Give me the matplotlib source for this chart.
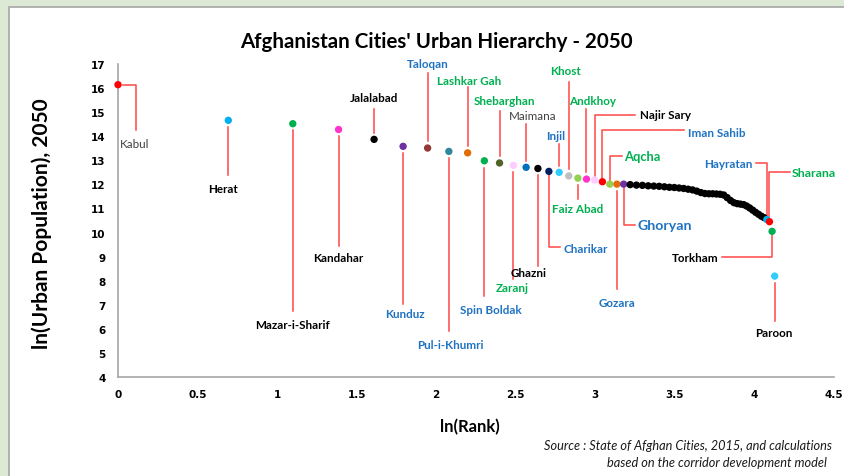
import numpy as np
import matplotlib
matplotlib.use("Agg")
import matplotlib.pyplot as plt
from matplotlib.patches import Rectangle

# ---------------- data ----------------
ranks = list(range(1, 63))
ln_pop = [16.14, 14.66, 14.52, 14.28, 13.87, 13.58, 13.51, 13.37, 13.31, 12.98,
          12.89, 12.79, 12.71, 12.66, 12.54, 12.50, 12.35, 12.26, 12.22, 12.18,
          12.11, 12.01, 12.01, 12.01,
          11.99, 11.97, 11.96, 11.94, 11.93, 11.92, 11.90, 11.88, 11.87, 11.85,
          11.83, 11.80, 11.77, 11.72, 11.66, 11.62, 11.61, 11.61, 11.60, 11.59,
          11.56, 11.45, 11.33, 11.24, 11.20, 11.18, 11.16, 11.10, 11.02, 10.93,
          10.84, 10.76, 10.68, 10.62,
          10.54, 10.45, 10.05, 8.19]

point_colors = ["#ff0000", "#00b0f0", "#00b050", "#ff33cc", "#000000", "#7030a0",
                "#953735", "#31859c", "#e36c09", "#00b050", "#4f6228", "#ffccff",
                "#0070c0", "#000000", "#002060", "#33ccff", "#bfbfbf", "#92d050",
                "#ff33cc", "#ffccff", "#ff0000", "#92d050", "#e36c09", "#7030a0"] \
               + ["#000000"] * 34 + ["#00b0f0", "#ff0000", "#00b050", "#33ccff"]

BLUE, GREEN, BLACK, GRAY = "#1f73c2", "#00b050", "#000000", "#404040"

# label layout: rank, name, colour, bold, text x, text y, ha, leader kind, leader end y, leader end x
labels = [
    (1, "Kabul", GRAY, False, 0.105, 13.68, "center", "hv", 14.26, 0.113),
    (2, "Herat", BLACK, True, 0.66, 11.81, "center", "v", 12.39, None),
    (3, "Mazar-i-Sharif", BLACK, True, 1.094, 6.20, "center", "v", 6.74, None),
    (4, "Kandahar", BLACK, True, 1.383, 8.98, "center", "v", 9.44, None),
    (5, "Jalalabad", BLACK, True, 1.61, 15.59, "center", "v", 15.13, None),
    (6, "Kunduz", BLUE, True, 1.804, 6.62, "center", "v", 7.03, None),
    (7, "Taloqan", BLUE, True, 1.948, 17.0, "center", "v", 16.62, None),
    (8, "Pul-i-Khumri", BLUE, True, 2.087, 5.37, "center", "v", 5.91, None),
    (9, "Lashkar Gah", GREEN, True, 2.206, 16.33, "center", "v", 16.04, None),
    (10, "Spin Boldak", BLUE, True, 2.344, 6.82, "center", "v", 7.36, None),
    (11, "Shebarghan", GREEN, True, 2.432, 15.50, "center", "v", 15.05, None),
    (12, "Zaranj", GREEN, True, 2.476, 7.70, "center", "v", 8.07, None),
    (13, "Maimana", GRAY, False, 2.608, 14.88, "center", "v", 14.51, None),
    (14, "Ghazni", BLACK, True, 2.583, 8.32, "center", "v", 8.61, None),
    (15, "Charikar", BLUE, True, 2.80, 9.32, "left", "vh", 9.40, 2.778),
    (16, "Injil", BLUE, True, 2.753, 14.05, "center", "v", 13.68, None),
    (17, "Khost", GREEN, True, 2.81, 16.71, "center", "v", 16.25, None),
    (18, "Faiz Abad", GREEN, True, 2.89, 10.98, "center", "v", 11.39, None),
    (19, "Andkhoy", GREEN, True, 2.98, 15.50, "center", "v", 15.13, None),
    (20, "Najir Sary", BLACK, True, 3.28, 14.92, "left", "vh", 14.88, 3.249),
    (21, "Iman Sahib", BLUE, True, 3.583, 14.17, "left", "vh", 14.26, 3.557),
    (22, "Aqcha", GREEN, True, 3.18, 13.18, "left", "vh", 13.18, 3.168),
    (23, "Gozara", BLUE, True, 3.136, 7.11, "center", "v", 7.65, None),
    (24, "Ghoryan", BLUE, True, 3.268, 10.31, "left", "vh", 10.31, 3.249),
    (59, "Hayratan", BLUE, True, 3.99, 12.85, "right", "vh", 12.89, 4.010),
    (60, "Sharana", GREEN, True, 4.236, 12.51, "left", "vh", 12.51, 4.224),
    (61, "Torkham", BLACK, True, 3.777, 8.98, "right", "vh", 8.98, 3.796),
    (62, "Paroon", BLACK, True, 4.123, 5.83, "center", "v", 6.33, None),
]
big_labels = {"Aqcha": 9.3, "Ghoryan": 10.2, "Sharana": 8.9}

x_ticks = [0, 0.5, 1, 1.5, 2, 2.5, 3, 3.5, 4, 4.5]
x_tick_labels = ["0", "0.5", "1", "1.5", "2", "2.5", "3", "3.5", "4", "4.5"]
y_ticks = list(range(4, 18))

# ---------------- figure ----------------
W, H = 844, 477
fig = plt.figure(figsize=(W / 100, H / 100), dpi=100, facecolor="#dce9d5")
panel = Rectangle((9 / W, -0.1), 1.0, 1 - 8 / H + 0.1, transform=fig.transFigure,
                  facecolor="white", edgecolor="#a6a6a6", lw=1.2, zorder=0)
fig.add_artist(panel)

ax = fig.add_axes([118 / W, 1 - 378 / H, (834 - 118) / W, (378 - 65) / H])
ax.set_facecolor("none")

xs = np.log(ranks)
ax.scatter(xs, ln_pop, s=28, c=point_colors, zorder=3, linewidths=0, clip_on=False)

LEAD = "#ff4545"
gap = 0.28
for rank, name, col, bold, tx, ty, ha, kind, ey, ex in labels:
    px = np.log(rank)
    py = ln_pop[rank - 1]
    if kind == "v":
        sy = py + gap if ey > py else py - gap
        ax.plot([px, px], [sy, ey], color=LEAD, lw=1.1, zorder=2)
    elif kind == "vh":
        sy = py + 0.15 if ey > py else py - 0.15
        ax.plot([px, px, ex], [sy, ey, ey], color=LEAD, lw=1.1, zorder=2)
    elif kind == "hv":
        ax.plot([px + 0.03, ex, ex], [py, py, ey], color=LEAD, lw=1.1, zorder=2)
    ax.text(tx, ty, name, color=col, ha=ha, va="center",
            fontsize=big_labels.get(name, 8.4),
            fontweight="bold" if bold else "normal", family="Lato", zorder=4,
            clip_on=False)

ax.set_xlim(0, 4.5)
ax.set_ylim(4, 17)
ax.set_xticks(x_ticks)
ax.set_xticklabels(x_tick_labels)
ax.set_yticks(y_ticks)
for lab in ax.get_xticklabels() + ax.get_yticklabels():
    lab.set_fontweight("bold")
    lab.set_fontsize(7.5)
ax.tick_params(axis="both", length=0, pad=9)
for s in ["top", "right"]:
    ax.spines[s].set_visible(False)
for s in ["left", "bottom"]:
    ax.spines[s].set_color("#a6a6a6")
    ax.spines[s].set_linewidth(1.2)

fig.text(436 / W, 1 - 42 / H, "Afghanistan Cities' Urban Hierarchy - 2050",
         ha="center", va="center", fontsize=14.8, fontweight="bold", family="Lato")
fig.text(42 / W, 1 - 224 / H, "ln(Urban Population), 2050", rotation=90,
         ha="center", va="center", fontsize=15, fontweight="bold", family="Lato")
fig.text(470 / W, 1 - 427 / H, "ln(Rank)", ha="center", va="center",
         fontsize=12, fontweight="bold", family="Lato")
fig.text(544 / W, 1 - 446 / H, "Source : State of Afghan Cities, 2015, and calculations",
         ha="left", va="center", fontsize=9.2, style="italic", family="Lato", color="#1a1a1a")
fig.text(607 / W, 1 - 463 / H, "based on the corridor development model",
         ha="left", va="center", fontsize=9.2, style="italic", family="Lato", color="#1a1a1a")

fig.savefig("out.png", dpi=100, facecolor=fig.get_facecolor())
